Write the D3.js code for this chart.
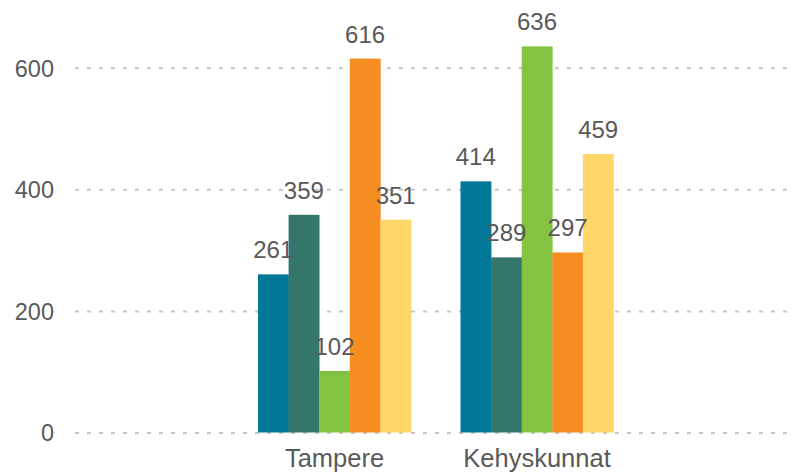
<!DOCTYPE html>
<html>
<head>
<meta charset="utf-8">
<script src="https://cdn.jsdelivr.net/npm/d3@7"></script>
<style>
html,body{margin:0;padding:0;background:#fff;}
svg{display:block;font-family:Arial,"Liberation Sans",sans-serif;}
</style>
</head>
<body>
<svg id="chart" width="792" height="474"></svg>
<script>
const categories = ["Tampere", "Kehyskunnat"];
const seriesNames = ["s1", "s2", "s3", "s4", "s5"];
const seriesColors = ["#027898", "#35766A", "#83C341", "#F68D20", "#FFD667"];
const values = [
  [261, 359, 102, 616, 351],
  [414, 289, 636, 297, 459]
];
const yTicks = [0, 200, 400, 600];

const svg = d3.select("#chart");
const y = d3.scaleLinear().domain([0, 600]).range([433, 68.3]);
const x0 = d3.scaleBand().domain(categories).range([233.25, 638.25]).paddingInner(0.2444).paddingOuter(0.1222);
const x1 = d3.scaleBand().domain(seriesNames).range([0, x0.bandwidth()]);

// gridlines
svg.append("g").selectAll("line").data(yTicks).join("line")
  .attr("x1", 75).attr("x2", 792)
  .attr("y1", d => y(d)).attr("y2", d => y(d))
  .attr("stroke", "#c6c6c6").attr("stroke-width", 2)
  .attr("stroke-dasharray", "4 8");

// y axis labels
svg.append("g").selectAll("text").data(yTicks).join("text")
  .attr("x", 54).attr("y", d => y(d)).attr("dy", "0.36em")
  .attr("text-anchor", "end").attr("font-size", 23.5).attr("fill", "#595959")
  .text(d => d);

// bars
const groups = svg.append("g").selectAll("g").data(categories).join("g")
  .attr("transform", d => `translate(${x0(d)},0)`);
groups.selectAll("rect").data((d, i) => values[i].map((v, j) => ({v, j}))).join("rect")
  .attr("x", d => x1(seriesNames[d.j]))
  .attr("width", x1.bandwidth() + 0.3)
  .attr("y", d => y(d.v))
  .attr("height", d => y(0) - y(d.v) - 0.5)
  .attr("fill", d => seriesColors[d.j]);
groups.selectAll("text").data((d, i) => values[i].map((v, j) => ({v, j}))).join("text")
  .attr("x", d => x1(seriesNames[d.j]) + x1.bandwidth() / 2)
  .attr("y", d => y(d.v) - 16)
  .attr("text-anchor", "middle").attr("font-size", 24).attr("fill", "#595959")
  .text(d => d.v);

// category labels
svg.append("g").selectAll("text").data(categories).join("text")
  .attr("x", d => x0(d) + x0.bandwidth() / 2)
  .attr("y", 466.5)
  .attr("text-anchor", "middle").attr("font-size", 25.5).attr("fill", "#595959")
  .text(d => d);
</script>
</body>
</html>
